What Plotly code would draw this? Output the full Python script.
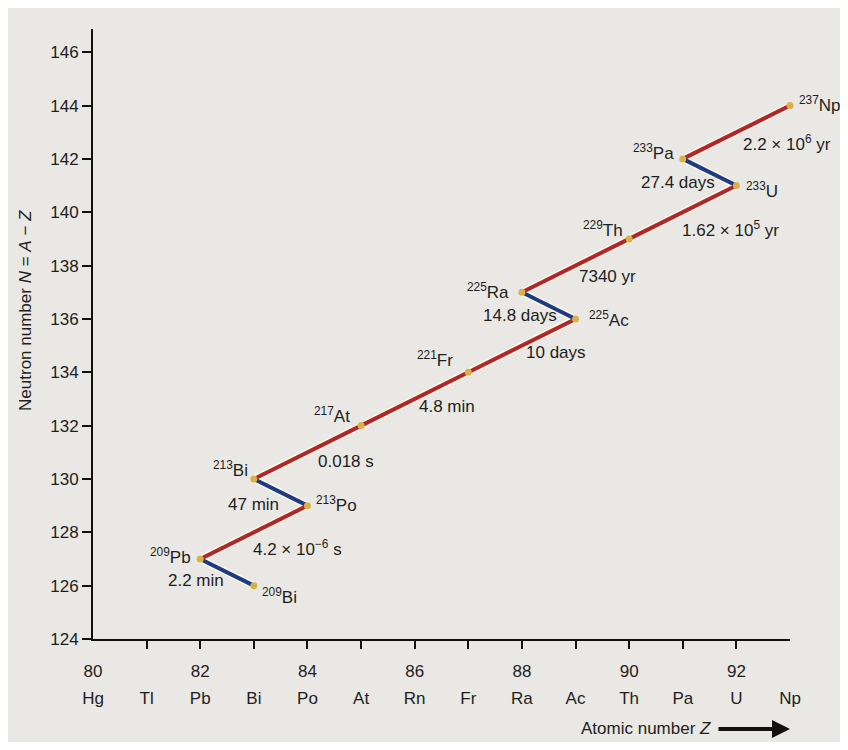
import plotly.graph_objects as go

# ---------------- data ----------------
Z = [93, 91, 92, 90, 88, 89, 87, 85, 83, 84, 82, 83]
N = [144, 142, 141, 139, 137, 136, 134, 132, 130, 129, 127, 126]
A = [237, 233, 233, 229, 225, 225, 221, 217, 213, 213, 209, 209]
symbols = ["Np", "Pa", "U", "Th", "Ra", "Ac", "Fr", "At", "Bi", "Po", "Pb", "Bi"]
decay_type = ["alpha", "beta", "alpha", "alpha", "beta", "alpha", "alpha", "alpha", "beta", "alpha", "beta"]
half_lives = ["2.2 × 10<sup>6</sup> yr", "27.4 days", "1.62 × 10<sup>5</sup> yr", "7340 yr",
              "14.8 days", "10 days", "4.8 min", "0.018 s", "47 min",
              "4.2 × 10<sup>−6</sup> s", "2.2 min"]

z_ticks = list(range(80, 94))
element_ticks = ["Hg", "Tl", "Pb", "Bi", "Po", "At", "Rn", "Fr", "Ra", "Ac", "Th", "Pa", "U", "Np"]
number_ticks = [str(z) if z % 2 == 0 else "" for z in z_ticks]
n_ticks = list(range(124, 147, 2))

# ---------------- styles ----------------
FONT = "Liberation Sans, Arial, Helvetica, sans-serif"
FS = 17
TXT = "#1e1e1e"
PAPER = "#e9e8e4"
COLORS = {"alpha": "#b0262a", "beta": "#1d3a86"}
X_RANGE = [80, 93]
Y_RANGE = [124, 146.87]

# nuclide label placement: (xanchor, xshift, yshift)
nuc_pos = [("left", 7, 2), ("right", -7, 7), ("left", 8, -4), ("right", -4, 10),
           ("right", -11, 1), ("left", 11, 0), ("right", -13, 13), ("right", -9, 11),
           ("right", -4, 10), ("left", 7, 2), ("right", -7, 3), ("left", 6, -10)]
# half-life label placement relative to segment midpoint: (xshift, yshift)
hl_pos = [(51, -11), (-32, -10), (48, -17), (32, -11), (-29, -10), (34, -7),
          (32, -8), (39, -9), (-27, -12), (44, -16), (-31, -8)]

fig = go.Figure()

# halo under lines
for i, t in enumerate(decay_type):
    fig.add_trace(go.Scatter(x=[Z[i], Z[i + 1]], y=[N[i], N[i + 1]], mode="lines",
                             line=dict(color="rgba(255,252,230,0.9)", width=7),
                             hoverinfo="skip", showlegend=False, cliponaxis=False))
for i, t in enumerate(decay_type):
    fig.add_trace(go.Scatter(x=[Z[i], Z[i + 1]], y=[N[i], N[i + 1]], mode="lines",
                             line=dict(color=COLORS[t], width=4),
                             hoverinfo="skip", showlegend=False, cliponaxis=False))
fig.add_trace(go.Scatter(x=Z, y=N, mode="markers",
                         marker=dict(color="#d9b04a", size=7),
                         hoverinfo="skip", showlegend=False, cliponaxis=False))

# dummy traces for overlay axes
for ax in ["x2", "x3"]:
    fig.add_trace(go.Scatter(x=[85], y=[130], xaxis=ax, yaxis="y", mode="markers",
                             marker=dict(opacity=0), hoverinfo="skip", showlegend=False))

annotations = []
for i in range(len(Z)):
    xa, xs, ys = nuc_pos[i]
    annotations.append(dict(x=Z[i], y=N[i], xref="x", yref="y",
                            text=f"<sup>{A[i]}</sup>{symbols[i]}",
                            showarrow=False, xanchor=xa, yanchor="middle",
                            xshift=xs, yshift=ys,
                            font=dict(family=FONT, size=FS, color=TXT)))
for i, hl in enumerate(half_lives):
    xs, ys = hl_pos[i]
    annotations.append(dict(x=(Z[i] + Z[i + 1]) / 2, y=(N[i] + N[i + 1]) / 2,
                            xref="x", yref="y", text=hl, showarrow=False,
                            xanchor="center", yanchor="middle", xshift=xs, yshift=ys,
                            font=dict(family=FONT, size=FS, color=TXT)))

# axis titles
annotations.append(dict(x=-0.096, y=0.538, xref="paper", yref="paper",
                        text="Neutron number <i>N</i> = <i>A</i> − <i>Z</i>",
                        textangle=-90, showarrow=False, xanchor="center", yanchor="middle",
                        font=dict(family=FONT, size=FS, color=TXT)))
annotations.append(dict(x=0.8895, y=-0.1475, xref="paper", yref="paper",
                        text="Atomic number <i>Z</i>", showarrow=False,
                        xanchor="right", yanchor="middle",
                        font=dict(family=FONT, size=FS, color=TXT)))
annotations.append(dict(x=1.0, y=-0.1475, xref="paper", yref="paper", text="",
                        showarrow=True, ax=-73, ay=0, arrowhead=2, arrowsize=0.9,
                        arrowwidth=4, arrowcolor="#111", standoff=0, startstandoff=0))

fig.update_layout(
    width=832, height=734,
    margin=dict(l=85, r=50, t=21, b=103),
    paper_bgcolor=PAPER, plot_bgcolor=PAPER,
    font=dict(family=FONT, size=FS, color=TXT),
    showlegend=False,
    annotations=annotations,
    xaxis=dict(range=X_RANGE, tickmode="array", tickvals=z_ticks[1:-1],
               showticklabels=False, ticks="outside", ticklen=8, tickwidth=2,
               tickcolor="#111", showline=True, linecolor="#111", linewidth=2,
               showgrid=False, zeroline=False, fixedrange=True),
    xaxis2=dict(range=X_RANGE, overlaying="x", anchor="y", side="bottom",
                tickmode="array", tickvals=z_ticks, ticktext=number_ticks,
                ticks="outside", ticklen=17, tickcolor="rgba(0,0,0,0)",
                showline=False, showgrid=False, zeroline=False,
                tickfont=dict(family=FONT, size=FS, color=TXT), fixedrange=True),
    xaxis3=dict(range=X_RANGE, overlaying="x", anchor="y", side="bottom",
                tickmode="array", tickvals=z_ticks, ticktext=element_ticks,
                ticks="outside", ticklen=44, tickcolor="rgba(0,0,0,0)",
                showline=False, showgrid=False, zeroline=False,
                tickfont=dict(family=FONT, size=FS, color=TXT), fixedrange=True),
    yaxis=dict(range=Y_RANGE, tickmode="array", tickvals=n_ticks,
               ticks="outside", ticklen=9, tickwidth=2, tickcolor="#111",
               showline=True, linecolor="#111", linewidth=2,
               showgrid=False, zeroline=False,
               tickfont=dict(family=FONT, size=FS, color=TXT), fixedrange=True),
)

fig.write_html("out.html")
